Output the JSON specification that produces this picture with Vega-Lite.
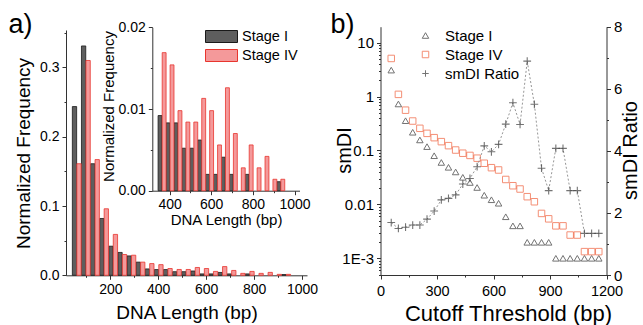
{
  "$schema": "https://vega.github.io/schema/vega-lite/v6.json",
  "width": 643,
  "height": 325,
  "autosize": {"type": "none"},
  "padding": 0,
  "background": "white",
  "config": {
    "font": "Liberation Sans",
    "view": {"stroke": null},
    "axis": {"grid": false, "domainColor": "#333333", "tickColor": "#333333", "labelColor": "#000000", "titleColor": "#000000", "titleFontWeight": "normal", "labelFontSize": 14, "labelFontWeight": "normal", "domainWidth": 1, "tickWidth": 1, "labelPadding": 3, "labelFlush": false, "labelOverlap": false}
  },
  "datasets": {
    "hist": [
      {"len": 60, "stage": "Stage I", "freq": 0.2435}, {"len": 60, "stage": "Stage IV", "freq": 0.161},
      {"len": 98, "stage": "Stage I", "freq": 0.331}, {"len": 98, "stage": "Stage IV", "freq": 0.310},
      {"len": 136, "stage": "Stage I", "freq": 0.161}, {"len": 136, "stage": "Stage IV", "freq": 0.167},
      {"len": 174, "stage": "Stage I", "freq": 0.082}, {"len": 174, "stage": "Stage IV", "freq": 0.096},
      {"len": 212, "stage": "Stage I", "freq": 0.042}, {"len": 212, "stage": "Stage IV", "freq": 0.059},
      {"len": 250, "stage": "Stage I", "freq": 0.033}, {"len": 250, "stage": "Stage IV", "freq": 0.030},
      {"len": 288, "stage": "Stage I", "freq": 0.028}, {"len": 288, "stage": "Stage IV", "freq": 0.029},
      {"len": 326, "stage": "Stage I", "freq": 0.019}, {"len": 326, "stage": "Stage IV", "freq": 0.019},
      {"len": 364, "stage": "Stage I", "freq": 0.0092}, {"len": 364, "stage": "Stage IV", "freq": 0.0169},
      {"len": 402, "stage": "Stage I", "freq": 0.0083}, {"len": 402, "stage": "Stage IV", "freq": 0.0154},
      {"len": 440, "stage": "Stage I", "freq": 0.0083}, {"len": 440, "stage": "Stage IV", "freq": 0.0098},
      {"len": 478, "stage": "Stage I", "freq": 0.0052}, {"len": 478, "stage": "Stage IV", "freq": 0.0084},
      {"len": 516, "stage": "Stage I", "freq": 0.0052}, {"len": 516, "stage": "Stage IV", "freq": 0.0084},
      {"len": 554, "stage": "Stage I", "freq": 0.0062}, {"len": 554, "stage": "Stage IV", "freq": 0.0113},
      {"len": 592, "stage": "Stage I", "freq": 0.0020}, {"len": 592, "stage": "Stage IV", "freq": 0.0098},
      {"len": 630, "stage": "Stage I", "freq": 0.0020}, {"len": 630, "stage": "Stage IV", "freq": 0.0056},
      {"len": 668, "stage": "Stage I", "freq": 0.0041}, {"len": 668, "stage": "Stage IV", "freq": 0.0126},
      {"len": 706, "stage": "Stage I", "freq": 0.0020}, {"len": 706, "stage": "Stage IV", "freq": 0.0070},
      {"len": 744, "stage": "Stage I", "freq": 0}, {"len": 744, "stage": "Stage IV", "freq": 0.0028},
      {"len": 782, "stage": "Stage I", "freq": 0.0020}, {"len": 782, "stage": "Stage IV", "freq": 0.0056},
      {"len": 820, "stage": "Stage I", "freq": 0}, {"len": 820, "stage": "Stage IV", "freq": 0.0028},
      {"len": 858, "stage": "Stage I", "freq": 0}, {"len": 858, "stage": "Stage IV", "freq": 0.0042},
      {"len": 896, "stage": "Stage I", "freq": 0}, {"len": 896, "stage": "Stage IV", "freq": 0.0014},
      {"len": 934, "stage": "Stage I", "freq": 0.0011}, {"len": 934, "stage": "Stage IV", "freq": 0.0014}
    ],
    "smdi": [
      {"cutoff": 57, "series": "Stage I", "smdi": 3.1}, {"cutoff": 57, "series": "Stage IV", "smdi": 5.1},
      {"cutoff": 95, "series": "Stage I", "smdi": 0.73}, {"cutoff": 95, "series": "Stage IV", "smdi": 1.10},
      {"cutoff": 133, "series": "Stage I", "smdi": 0.357}, {"cutoff": 133, "series": "Stage IV", "smdi": 0.56},
      {"cutoff": 171, "series": "Stage I", "smdi": 0.218}, {"cutoff": 171, "series": "Stage IV", "smdi": 0.352},
      {"cutoff": 209, "series": "Stage I", "smdi": 0.157}, {"cutoff": 209, "series": "Stage IV", "smdi": 0.258},
      {"cutoff": 247, "series": "Stage I", "smdi": 0.118}, {"cutoff": 247, "series": "Stage IV", "smdi": 0.208},
      {"cutoff": 285, "series": "Stage I", "smdi": 0.080}, {"cutoff": 285, "series": "Stage IV", "smdi": 0.173},
      {"cutoff": 323, "series": "Stage I", "smdi": 0.060}, {"cutoff": 323, "series": "Stage IV", "smdi": 0.146},
      {"cutoff": 361, "series": "Stage I", "smdi": 0.0488}, {"cutoff": 361, "series": "Stage IV", "smdi": 0.123},
      {"cutoff": 399, "series": "Stage I", "smdi": 0.040}, {"cutoff": 399, "series": "Stage IV", "smdi": 0.102},
      {"cutoff": 437, "series": "Stage I", "smdi": 0.0318}, {"cutoff": 437, "series": "Stage IV", "smdi": 0.089},
      {"cutoff": 475, "series": "Stage I", "smdi": 0.0255}, {"cutoff": 475, "series": "Stage IV", "smdi": 0.081},
      {"cutoff": 513, "series": "Stage I", "smdi": 0.0206}, {"cutoff": 513, "series": "Stage IV", "smdi": 0.072},
      {"cutoff": 551, "series": "Stage I", "smdi": 0.0148}, {"cutoff": 551, "series": "Stage IV", "smdi": 0.058},
      {"cutoff": 589, "series": "Stage I", "smdi": 0.0122}, {"cutoff": 589, "series": "Stage IV", "smdi": 0.048},
      {"cutoff": 627, "series": "Stage I", "smdi": 0.0105}, {"cutoff": 627, "series": "Stage IV", "smdi": 0.0435},
      {"cutoff": 665, "series": "Stage I", "smdi": 0.0059}, {"cutoff": 665, "series": "Stage IV", "smdi": 0.029},
      {"cutoff": 703, "series": "Stage I", "smdi": 0.0040}, {"cutoff": 703, "series": "Stage IV", "smdi": 0.0222},
      {"cutoff": 741, "series": "Stage I", "smdi": 0.0040}, {"cutoff": 741, "series": "Stage IV", "smdi": 0.0193},
      {"cutoff": 779, "series": "Stage I", "smdi": 0.00198}, {"cutoff": 779, "series": "Stage IV", "smdi": 0.0139},
      {"cutoff": 817, "series": "Stage I", "smdi": 0.00198}, {"cutoff": 817, "series": "Stage IV", "smdi": 0.0112},
      {"cutoff": 855, "series": "Stage I", "smdi": 0.00198}, {"cutoff": 855, "series": "Stage IV", "smdi": 0.0068},
      {"cutoff": 893, "series": "Stage I", "smdi": 0.00198}, {"cutoff": 893, "series": "Stage IV", "smdi": 0.0054},
      {"cutoff": 931, "series": "Stage I", "smdi": 0.0010}, {"cutoff": 931, "series": "Stage IV", "smdi": 0.0040},
      {"cutoff": 969, "series": "Stage I", "smdi": 0.0010}, {"cutoff": 969, "series": "Stage IV", "smdi": 0.0040},
      {"cutoff": 1007, "series": "Stage I", "smdi": 0.0010}, {"cutoff": 1007, "series": "Stage IV", "smdi": 0.0027},
      {"cutoff": 1045, "series": "Stage I", "smdi": 0.0010}, {"cutoff": 1045, "series": "Stage IV", "smdi": 0.0027},
      {"cutoff": 1083, "series": "Stage I", "smdi": 0.0010}, {"cutoff": 1083, "series": "Stage IV", "smdi": 0.00133},
      {"cutoff": 1121, "series": "Stage I", "smdi": 0.0010}, {"cutoff": 1121, "series": "Stage IV", "smdi": 0.00133},
      {"cutoff": 1159, "series": "Stage I", "smdi": 0.0010}, {"cutoff": 1159, "series": "Stage IV", "smdi": 0.00133}
    ],
    "ratio": [
      {"cutoff": 57, "series": "smDI Ratio", "ratio": 1.69}, {"cutoff": 95, "series": "smDI Ratio", "ratio": 1.50},
      {"cutoff": 133, "series": "smDI Ratio", "ratio": 1.54}, {"cutoff": 171, "series": "smDI Ratio", "ratio": 1.61},
      {"cutoff": 209, "series": "smDI Ratio", "ratio": 1.61}, {"cutoff": 247, "series": "smDI Ratio", "ratio": 1.80},
      {"cutoff": 285, "series": "smDI Ratio", "ratio": 2.06}, {"cutoff": 323, "series": "smDI Ratio", "ratio": 2.42},
      {"cutoff": 361, "series": "smDI Ratio", "ratio": 2.47}, {"cutoff": 399, "series": "smDI Ratio", "ratio": 2.58},
      {"cutoff": 437, "series": "smDI Ratio", "ratio": 2.93}, {"cutoff": 475, "series": "smDI Ratio", "ratio": 3.11},
      {"cutoff": 513, "series": "smDI Ratio", "ratio": 3.49}, {"cutoff": 551, "series": "smDI Ratio", "ratio": 4.16},
      {"cutoff": 589, "series": "smDI Ratio", "ratio": 3.97}, {"cutoff": 627, "series": "smDI Ratio", "ratio": 4.21},
      {"cutoff": 665, "series": "smDI Ratio", "ratio": 4.86}, {"cutoff": 703, "series": "smDI Ratio", "ratio": 5.55},
      {"cutoff": 741, "series": "smDI Ratio", "ratio": 4.85}, {"cutoff": 779, "series": "smDI Ratio", "ratio": 6.89},
      {"cutoff": 817, "series": "smDI Ratio", "ratio": 5.50}, {"cutoff": 855, "series": "smDI Ratio", "ratio": 3.44},
      {"cutoff": 893, "series": "smDI Ratio", "ratio": 2.72}, {"cutoff": 931, "series": "smDI Ratio", "ratio": 4.08},
      {"cutoff": 969, "series": "smDI Ratio", "ratio": 4.08}, {"cutoff": 1007, "series": "smDI Ratio", "ratio": 2.72},
      {"cutoff": 1045, "series": "smDI Ratio", "ratio": 2.72}, {"cutoff": 1083, "series": "smDI Ratio", "ratio": 1.34},
      {"cutoff": 1121, "series": "smDI Ratio", "ratio": 1.34}, {"cutoff": 1159, "series": "smDI Ratio", "ratio": 1.34}
    ]
  },
  "resolve": {"scale": {"x": "independent", "y": "independent", "fill": "independent", "stroke": "independent", "shape": "independent"}},
  "layer": [
    {
      "data": {"name": "hist"},
      "encoding": {
        "x": {"field": "len", "type": "quantitative",
          "scale": {"domain": [36, 1000], "range": [66, 307], "nice": false, "zero": false},
          "axis": {"orient": "bottom", "offset": -49.7, "values": [100, 200, 300, 400, 500, 600, 700, 800, 900, 1000],
            "labelExpr": "datum.value % 200 == 0 ? datum.label : ''", "format": "d",
            "tickSize": {"condition": {"test": "datum.value % 200 == 0", "value": 4}, "value": 2},
            "title": "DNA Length (bp)", "titleFontSize": 19, "titleX": 186.5, "titleY": 37, "titleBaseline": "middle", "titleAlign": "center"}},
        "y": {"field": "freq", "type": "quantitative",
          "scale": {"domain": [0, 0.354], "range": [275.3, 30], "nice": false},
          "axis": {"orient": "left", "offset": -66, "values": [0, 0.05, 0.1, 0.15, 0.2, 0.25, 0.3, 0.35],
            "labelExpr": "indexof([0, 0.1, 0.2, 0.3], datum.value) >= 0 ? format(datum.value, '.1f') : ''",
            "tickSize": {"condition": {"test": "indexof([0, 0.1, 0.2, 0.3], datum.value) >= 0", "value": 4}, "value": 2},
            "title": "Normalized Frequency", "titleFontSize": 19, "titleX": -43, "titleY": 153, "titleBaseline": "middle", "titleAlign": "center", "titleAngle": 270}},
        "fill": {"field": "stage", "type": "nominal", "scale": {"domain": ["Stage I", "Stage IV"], "range": ["#5e5e5e", "#f4999a"]},
          "legend": {"orient": "none", "legendX": 213, "legendY": 28, "title": null, "symbolType": "M-2,-0.75H2V0.75H-2Z", "symbolSize": 256, "labelFontSize": 14.5, "labelOffset": 12, "rowPadding": 2, "symbolStrokeWidth": 1}},
        "stroke": {"field": "stage", "type": "nominal", "scale": {"domain": ["Stage I", "Stage IV"], "range": ["#1a1a1a", "#e8352e"]},
          "legend": {"orient": "none", "legendX": 213, "legendY": 28, "title": null, "symbolType": "M-2,-0.75H2V0.75H-2Z", "symbolSize": 256, "labelFontSize": 14.5, "labelOffset": 12, "rowPadding": 2, "symbolStrokeWidth": 1}}
      },
      "layer": [
        {"transform": [{"filter": "datum.stage == 'Stage I' && datum.freq > 0"}],
         "mark": {"type": "bar", "width": 4.3, "xOffset": -2.25, "strokeWidth": 0.8}},
        {"transform": [{"filter": "datum.stage == 'Stage IV' && datum.freq > 0"}],
         "mark": {"type": "bar", "width": 4.3, "xOffset": 2.25, "strokeWidth": 0.8}}
      ]
    },
    {
      "data": {"name": "hist"},
      "transform": [{"filter": "datum.len >= 340 && datum.freq > 0"}],
      "encoding": {
        "x": {"field": "len", "type": "quantitative",
          "scale": {"domain": [341, 1000], "range": [152.3, 299.5], "nice": false, "zero": false},
          "axis": {"orient": "bottom", "offset": -134.3, "values": [400, 500, 600, 700, 800, 900, 1000],
            "labelExpr": "datum.value % 200 == 0 ? datum.label : ''", "format": "d",
            "tickSize": {"condition": {"test": "datum.value % 200 == 0", "value": 4}, "value": 2},
            "title": "DNA Length (bp)", "titleFontSize": 15, "titleX": 226, "titleY": 28.5, "titleBaseline": "middle", "titleAlign": "center"}},
        "y": {"field": "freq", "type": "quantitative",
          "scale": {"domain": [0, 0.02], "range": [190.7, 27.3], "nice": false},
          "axis": {"orient": "left", "offset": -152.3, "values": [0, 0.005, 0.01, 0.015, 0.02],
            "labelExpr": "indexof([0, 0.01, 0.02], datum.value) >= 0 ? format(datum.value, '.2f') : ''",
            "tickSize": {"condition": {"test": "indexof([0, 0.01, 0.02], datum.value) >= 0", "value": 4}, "value": 2},
            "title": "Normalized Frequency", "titleFontSize": 15, "titleX": -43.5, "titleY": 106, "titleBaseline": "middle", "titleAlign": "center", "titleAngle": 270}},
        "fill": {"field": "stage", "type": "nominal", "scale": {"domain": ["Stage I", "Stage IV"], "range": ["#5e5e5e", "#f4999a"]}, "legend": null},
        "stroke": {"field": "stage", "type": "nominal", "scale": {"domain": ["Stage I", "Stage IV"], "range": ["#1a1a1a", "#e8352e"]}, "legend": null}
      },
      "layer": [
        {"transform": [{"filter": "datum.stage == 'Stage I'"}],
         "mark": {"type": "bar", "width": 3.9, "xOffset": -2.05, "strokeWidth": 0.8}},
        {"transform": [{"filter": "datum.stage == 'Stage IV'"}],
         "mark": {"type": "bar", "width": 3.9, "xOffset": 2.05, "strokeWidth": 0.8}}
      ]
    },
    {
      "resolve": {"scale": {"x": "independent", "y": "independent", "stroke": "shared", "shape": "shared"}},
      "layer": [
        {
          "data": {"name": "smdi"},
          "mark": {"type": "point", "filled": false, "size": 42, "strokeWidth": 1},
          "encoding": {
            "x": {"field": "cutoff", "type": "quantitative",
              "scale": {"domain": [0, 1200], "range": [380.5, 606.5], "nice": false, "zero": false},
              "axis": {"orient": "bottom", "offset": -50, "values": [0, 150, 300, 450, 600, 750, 900, 1050, 1200],
                "labelExpr": "datum.value % 300 == 0 ? datum.label : ''", "format": "d", "labelFontSize": 14.5, "labelPadding": 5,
                "tickSize": {"condition": {"test": "datum.value % 300 == 0", "value": 4}, "value": 2},
                "title": "Cutoff Threshold (bp)", "titleFontSize": 22, "titleX": 508, "titleY": 38.5, "titleBaseline": "middle", "titleAlign": "center"}},
            "y": {"field": "smdi", "type": "quantitative",
              "scale": {"type": "log", "domain": [0.00049, 19.8], "range": [275, 26.7], "nice": false},
              "axis": {"orient": "left", "offset": -380.5,
                "values": [0.0005, 0.0006, 0.0007, 0.0008, 0.0009, 0.001, 0.002, 0.003, 0.004, 0.005, 0.006, 0.007, 0.008, 0.009, 0.01, 0.02, 0.03, 0.04, 0.05, 0.06, 0.07, 0.08, 0.09, 0.1, 0.2, 0.3, 0.4, 0.5, 0.6, 0.7, 0.8, 0.9, 1, 2, 3, 4, 5, 6, 7, 8, 9, 10],
                "labelExpr": "datum.value == 10 ? '10' : datum.value == 1 ? '1' : datum.value == 0.1 ? '0.1' : datum.value == 0.01 ? '0.01' : datum.value == 0.001 ? '1E-3' : ''",
                "labelFontSize": 15,
                "tickSize": {"condition": {"test": "indexof([10, 1, 0.1, 0.01, 0.001], datum.value) >= 0", "value": 4}, "value": 2},
                "title": "smDI", "titleFontSize": 20, "titleX": -36, "titleY": 150, "titleBaseline": "middle", "titleAlign": "center", "titleAngle": 270}},
            "stroke": {"field": "series", "type": "nominal",
              "scale": {"domain": ["Stage I", "Stage IV", "smDI Ratio"], "range": ["#383838", "#f0603c", "#3a3a3a"]},
              "legend": {"orient": "none", "legendX": 418, "legendY": 28, "title": null, "labelFontSize": 15, "symbolSize": 42, "symbolStrokeWidth": 1, "labelOffset": 12, "rowPadding": 3}},
            "shape": {"field": "series", "type": "nominal",
              "scale": {"domain": ["Stage I", "Stage IV", "smDI Ratio"], "range": ["triangle-up", "square", "M-1,0H1M0,-1V1"]},
              "legend": {"orient": "none", "legendX": 418, "legendY": 28, "title": null, "labelFontSize": 15, "symbolSize": 42, "symbolStrokeWidth": 1, "labelOffset": 12, "rowPadding": 3}}
          }
        },
        {
          "data": {"name": "ratio"},
          "resolve": {"scale": {"x": "independent"}},
          "encoding": {
            "y": {"field": "ratio", "type": "quantitative",
              "scale": {"domain": [0, 8], "range": [275, 26.7], "nice": false, "zero": false},
              "axis": {"orient": "right", "offset": -36.5, "values": [0, 1, 2, 3, 4, 5, 6, 7, 8],
                "labelExpr": "datum.value % 2 == 0 ? datum.label : ''", "labelFontSize": 15,
                "tickSize": {"condition": {"test": "datum.value % 2 == 0", "value": 4}, "value": 2},
                "title": "smDI Ratio", "titleFontSize": 20, "titleX": 24, "titleY": 150, "titleBaseline": "middle", "titleAlign": "center", "titleAngle": 270}}
          },
          "layer": [
            {
              "mark": {"type": "line", "strokeDash": [2, 2], "color": "#8a8a8a", "strokeWidth": 0.9},
              "encoding": {
                "x": {"field": "cutoff", "type": "quantitative",
                  "scale": {"domain": [0, 1200], "range": [380.5, 606.5], "nice": false, "zero": false},
                  "axis": {"orient": "top", "offset": 0, "domain": false, "ticks": false, "labels": false,
                    "title": "b)", "titleFontSize": 27, "titleAngle": 0, "titleAlign": "left", "titleBaseline": "alphabetic", "titleX": 330, "titleY": 32}}
              }
            },
            {
              "mark": {"type": "point", "filled": false, "size": 60, "strokeWidth": 1.1},
              "encoding": {
                "x": {"field": "cutoff", "type": "quantitative",
                  "scale": {"domain": [0, 1200], "range": [380.5, 606.5], "nice": false, "zero": false},
                  "axis": {"orient": "top", "offset": 0, "domain": false, "ticks": false, "labels": false,
                    "title": "a)", "titleFontSize": 27, "titleAngle": 0, "titleAlign": "left", "titleBaseline": "alphabetic", "titleX": 8, "titleY": 32}},
                "stroke": {"field": "series", "type": "nominal",
                  "scale": {"domain": ["Stage I", "Stage IV", "smDI Ratio"], "range": ["#383838", "#f0603c", "#3a3a3a"]},
                  "legend": {"orient": "none", "legendX": 418, "legendY": 28, "title": null, "labelFontSize": 15, "symbolSize": 42, "symbolStrokeWidth": 1, "labelOffset": 12, "rowPadding": 3}},
                "shape": {"field": "series", "type": "nominal",
                  "scale": {"domain": ["Stage I", "Stage IV", "smDI Ratio"], "range": ["triangle-up", "square", "M-1,0H1M0,-1V1"]},
                  "legend": {"orient": "none", "legendX": 418, "legendY": 28, "title": null, "labelFontSize": 15, "symbolSize": 42, "symbolStrokeWidth": 1, "labelOffset": 12, "rowPadding": 3}}
              }
            }
          ]
        }
      ]
    }
  ]
}
